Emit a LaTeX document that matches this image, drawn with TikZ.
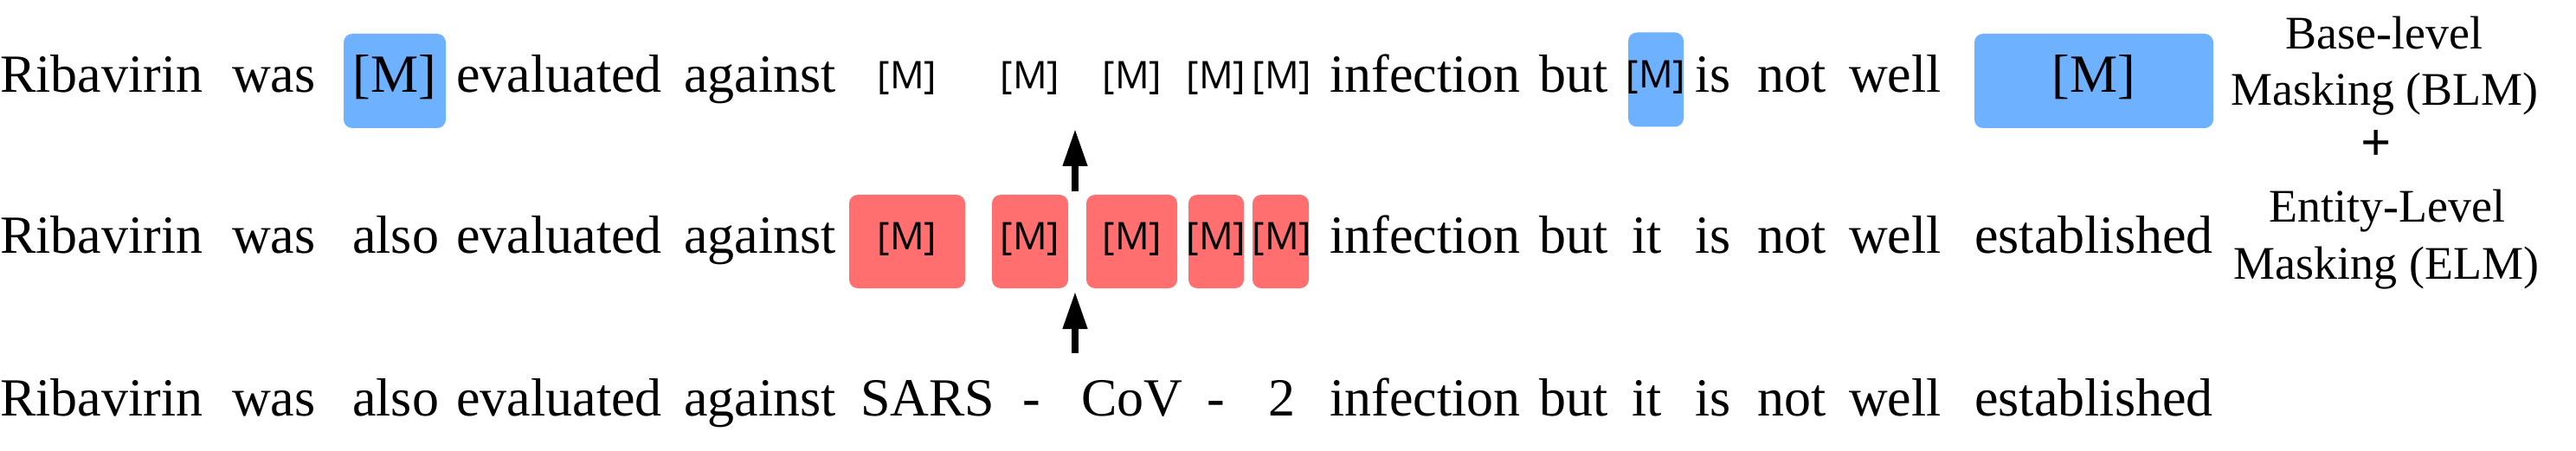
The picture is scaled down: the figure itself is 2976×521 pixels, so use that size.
\documentclass[tikz,border=0pt]{standalone}
\usepackage{fontspec}
\setmainfont{Liberation Serif}
\newfontfamily\maskfont{Open Sans}
\usetikzlibrary{arrows.meta}
\usetikzlibrary{positioning}
\definecolor{blmblue}{RGB}{110,177,255}
\definecolor{elmred}{RGB}{255,111,111}
\tikzset{
	word/.style={anchor=base west, inner sep=0pt, font=\fontsize{62}{70}\selectfont},
	bigmask/.style={anchor=base, inner sep=0pt, font=\fontsize{62}{70}\selectfont},
	smallmask/.style={anchor=base, inner sep=0pt, font=\maskfont\fontsize{44}{50}\selectfont},
	bluebox/.style={fill=blmblue, rounded corners=10pt, inner sep=0pt, minimum height=109pt},
	redbox/.style={fill=elmred, rounded corners=10pt, inner sep=0pt, minimum height=108pt},
	tag/.style={anchor=base, inner sep=0pt, font=\fontsize{54}{60}\selectfont},
	uparrow/.style={line width=7.5pt, -{Triangle[width=27pt,length=43pt]}}
}

\begin{document}
\begin{tikzpicture}[x=1pt, y=-1pt]

	\useasboundingbox (0,0) rectangle (2976,521);

	% base-level masking
	\node[bluebox, minimum width=118pt] (blm1) at (456,93.5) {};
	\node[bluebox, minimum width=64pt] (blm2) at (1913,92) {};
	\node[bluebox, minimum width=276pt] (blm3) at (2419,93.5) {};

	\node[word] (topRibavirin) at (0,107) {Ribavirin};
	\node[word] (topWas) at (268,107) {was};
	\node[bigmask] (topMaskA) at (456,107) {[M]};
	\node[word] (topEvaluated) at (527,107) {evaluated};
	\node[word] (topAgainst) at (790,107) {against};
	\node[smallmask] (topMaskB) at (1048,103) {[M]};
	\node[smallmask] (topMaskC) at (1190,103) {[M]};
	\node[smallmask] (topMaskD) at (1308,103) {[M]};
	\node[smallmask] (topMaskE) at (1405,103) {[M]};
	\node[smallmask] (topMaskF) at (1481,103) {[M]};
	\node[word] (topInfection) at (1536,107) {infection};
	\node[word] (topBut) at (1778,107) {but};
	\node[smallmask] (topMaskG) at (1913,102) {[M]};
	\node[word] (topIs) at (1958,107) {is};
	\node[word] (topNot) at (2030,107) {not};
	\node[word] (topWell) at (2136,107) {well};
	\node[bigmask] (topMaskH) at (2419,107) {[M]};

	% entity-level masking
	\node[redbox, minimum width=134pt] (elm1) at (1048,279) {};
	\node[redbox, minimum width=88pt] (elm2) at (1190,279) {};
	\node[redbox, minimum width=105pt] (elm3) at (1307.5,279) {};
	\node[redbox, minimum width=64pt] (elm4) at (1405,279) {};
	\node[redbox, minimum width=65pt] (elm5) at (1479.5,279) {};

	\node[word] (midRibavirin) at (0,292) {Ribavirin};
	\node[word] (midWas) at (268,292) {was};
	\node[word] (midAlso) at (407,292) {also};
	\node[word] (midEvaluated) at (527,292) {evaluated};
	\node[word] (midAgainst) at (790,292) {against};
	\node[smallmask] (midMaskA) at (1048,288) {[M]};
	\node[smallmask] (midMaskB) at (1190,288) {[M]};
	\node[smallmask] (midMaskC) at (1308,288) {[M]};
	\node[smallmask] (midMaskD) at (1405,288) {[M]};
	\node[smallmask] (midMaskE) at (1481,288) {[M]};
	\node[word] (midInfection) at (1536,292) {infection};
	\node[word] (midBut) at (1778,292) {but};
	\node[word] (midIt) at (1885,292) {it};
	\node[word] (midIs) at (1958,292) {is};
	\node[word] (midNot) at (2030,292) {not};
	\node[word] (midWell) at (2136,292) {well};
	\node[word] (midEstablished) at (2281,292) {established};

	% original sentence
	\node[word] (lowRibavirin) at (0,480) {Ribavirin};
	\node[word] (lowWas) at (268,480) {was};
	\node[word] (lowAlso) at (407,480) {also};
	\node[word] (lowEvaluated) at (527,480) {evaluated};
	\node[word] (lowAgainst) at (790,480) {against};
	\node[word] (lowSars) at (994,480) {SARS};
	\node[word] (lowDashA) at (1181,480) {-};
	\node[word] (lowCov) at (1249,480) {CoV};
	\node[word] (lowDashB) at (1394,480) {-};
	\node[word] (lowTwo) at (1465,480) {2};
	\node[word] (lowInfection) at (1536,480) {infection};
	\node[word] (lowBut) at (1778,480) {but};
	\node[word] (lowIt) at (1885,480) {it};
	\node[word] (lowIs) at (1958,480) {is};
	\node[word] (lowNot) at (2030,480) {not};
	\node[word] (lowWell) at (2136,480) {well};
	\node[word] (lowEstablished) at (2281,480) {established};

	% arrows
	\coordinate (lowTail) at (1242,408);
	\coordinate (lowTip) at (1242,337);
	\coordinate (topTail) at (1242,221);
	\coordinate (topTip) at (1242,149);
	\draw[uparrow] (lowTail) -- (lowTip);
	\draw[uparrow] (topTail) -- (topTip);

	% legend
	\node[tag] (blmA) at (2754,57) {Base-level};
	\node[tag] (blmB) at (2755,122) {Masking (BLM)};
	\node[anchor=base, inner sep=0pt, font=\bfseries\fontsize{62}{70}\selectfont] (plus) at (2745,186) {+};
	\node[tag] (elmA) at (2758,257) {Entity-Level};
	\node[tag] (elmB) at (2757,322) {Masking (ELM)};

\end{tikzpicture}
\end{document}
